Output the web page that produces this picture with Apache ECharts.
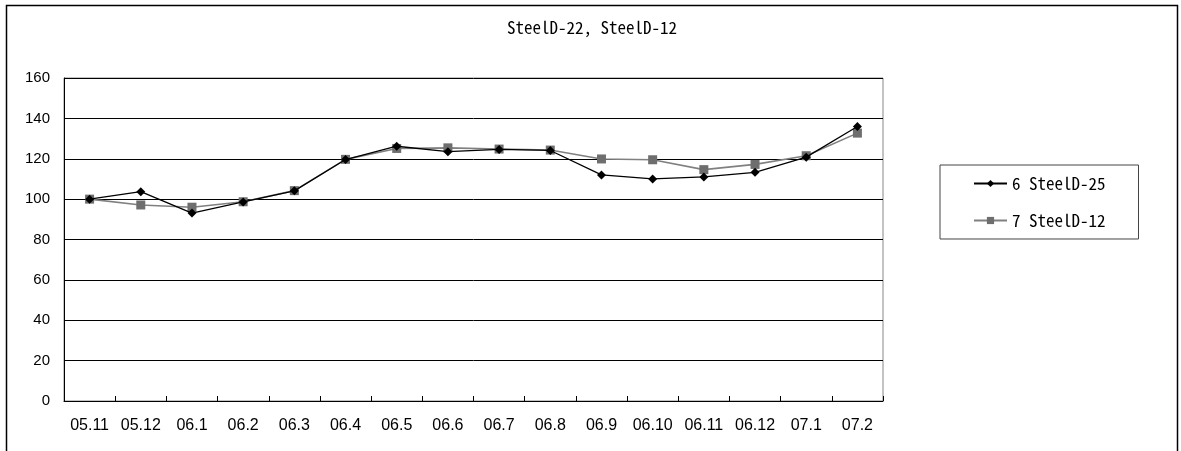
<!DOCTYPE html>
<html><head><meta charset="utf-8">
<script src="https://cdn.jsdelivr.net/npm/echarts@6/dist/echarts.min.js"></script>
<style>html,body{margin:0;padding:0;background:#fff}#c{width:1181px;height:451px}</style>
</head><body><div id="c"></div>
<script>
const categories = ['05.11','05.12','06.1','06.2','06.3','06.4','06.5','06.6','06.7','06.8','06.9','06.10','06.11','06.12','07.1','07.2'];
const steel25 = [100, 103.7, 93.1, 98.6, 104.1, 119.6, 126.2, 123.5, 124.6, 124.1, 112, 110, 111, 113.3, 120.8, 136];
const steel12 = [100, 97.1, 96, 98.7, 104.2, 119.7, 125.1, 125.4, 124.8, 124.3, 119.9, 119.5, 114.6, 117.2, 121.5, 132.7];
const yTicks = [0, 20, 40, 60, 80, 100, 120, 140, 160];
const titleText = 'SteelD-22, SteelD-12';
const names = ['6 SteelD-25', '7 SteelD-12'];

const monoFont = '"Noto Sans Mono CJK JP", "Noto Sans CJK JP", sans-serif';
const axisFont = '"Liberation Sans", Arial, sans-serif';
const chart = echarts.init(document.getElementById('c'), null, {renderer: 'canvas'});
chart.setOption({
  animation: false,
  backgroundColor: '#fff',
  title: {text: titleText, left: 592, top: 19, textAlign: 'center', padding: 0,
    textStyle: {fontFamily: monoFont, fontSize: 17, fontWeight: 'normal', color: '#000'}},
  graphic: [{type: 'rect', shape: {x: 6.5, y: 5.5, width: 1171, height: 460},
    style: {fill: null, stroke: '#000', lineWidth: 1.5}, silent: true, z: -1}],
  grid: {left: 64, top: 78, width: 819, height: 323, show: true, borderColor: '#888', borderWidth: 1, backgroundColor: 'transparent'},
  legend: {
    orient: 'vertical', left: 940, top: 165,
    padding: [10, 33, 10, 33], itemGap: 20,
    borderColor: '#444', borderWidth: 1,
    itemWidth: 33, itemHeight: 9,
    textStyle: {fontFamily: monoFont, fontSize: 17, color: '#000'},
    data: names
  },
  xAxis: {
    type: 'category', data: categories, boundaryGap: true,
    axisLine: {lineStyle: {color: '#000', width: 1}},
    axisTick: {show: true, length: 5, inside: true, lineStyle: {color: '#000'}},
    axisLabel: {fontFamily: axisFont, fontSize: 16, color: '#000', margin: 17, interval: 0},
    splitLine: {show: false}
  },
  yAxis: {
    type: 'value', min: yTicks[0], max: yTicks[yTicks.length - 1], interval: 20,
    axisLine: {show: true, lineStyle: {color: '#000'}},
    axisTick: {show: false},
    axisLabel: {fontFamily: axisFont, fontSize: 15, color: '#000', margin: 14},
    splitLine: {show: true, lineStyle: {color: '#000', width: 1}}
  },
  series: [
    {name: names[0], type: 'line', data: steel25, symbol: 'diamond', symbolSize: 9,
      itemStyle: {color: '#000'}, lineStyle: {color: '#000', width: 1.3}, z: 3},
    {name: names[1], type: 'line', data: steel12, symbol: 'rect', symbolSize: 9,
      itemStyle: {color: '#6e6e6e'}, lineStyle: {color: '#808080', width: 1.6}, z: 2}
  ]
});
</script></body></html>
